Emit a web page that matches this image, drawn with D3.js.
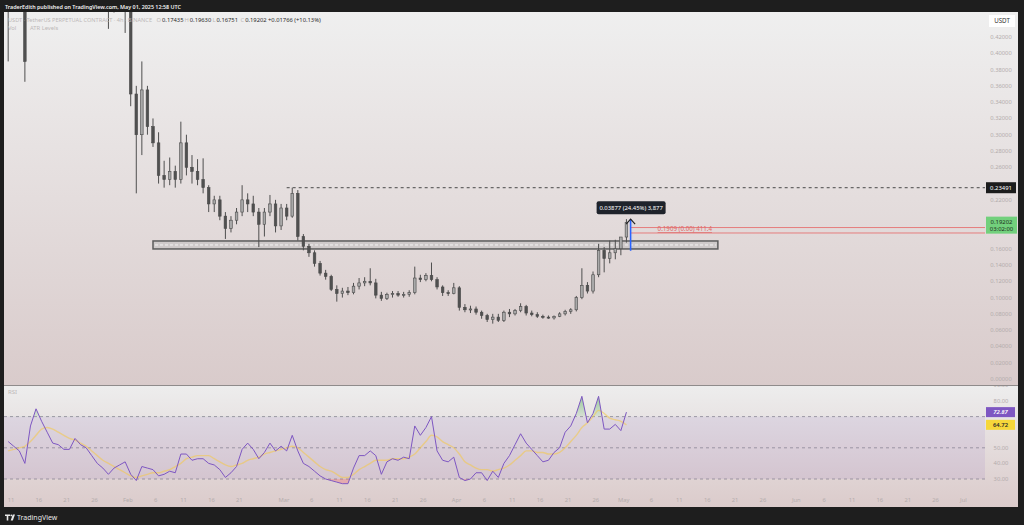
<!DOCTYPE html>
<html><head><meta charset="utf-8">
<script src="https://cdn.jsdelivr.net/npm/d3@7"></script>
<style>html,body{margin:0;padding:0;background:#1e1e1e;overflow:hidden}svg{display:block}</style>
</head><body><svg id="c" width="1024" height="525"></svg>
<script>
// ---------------- DATA ----------------
const startDay = "2025-01-10"; // first daily candle
const open = [.48,.47,.53,.52,.47,.54,.62,.60,.57,.54,.55,.53,.54,.57,.55,.54,.51,.49,.47,.46,.48,.49,
 .46,.35,.30,.355,.31,.29,.25,.245,.255,.245,.29,.26,.255,.245,.235,.215,.22,.20,.185,.195,.205,.22,.215,.205,.19,.205,.215,.188,
 .21,.20,.228,.175,.163,.155,.142,.13,.126,.11,.105,.108,.106,.114,.118,.12,.118,.103,.099,.104,.105,.103,.104,.106,.124,.122,.127,.122,.113,.106,.105,
 .112,.088,.085,.086,.082,.078,.073,.076,.072,.082,.08,.084,.089,.081,.079,.077,.076,.075,.077,.08,.083,.085,.10,.115,.108,.128,.158,.148,.155,.16,
 .17435];
const high = [.53,.55,.60,.54,.56,.64,.68,.63,.59,.57,.58,.56,.60,.59,.57,.55,.53,.50,.49,.50,.50,.51,
 .47,.36,.39,.36,.32,.303,.268,.272,.262,.316,.30,.275,.27,.271,.238,.225,.225,.205,.20,.21,.238,.228,.225,.21,.21,.226,.22,.215,
 .215,.2349,.232,.178,.166,.158,.145,.134,.128,.115,.112,.113,.118,.124,.125,.136,.123,.107,.106,.108,.108,.107,.109,.138,.128,.13,.143,.125,.115,.109,.118,
 .114,.092,.09,.089,.084,.08,.08,.08,.084,.086,.086,.093,.091,.084,.082,.079,.078,.078,.082,.085,.087,.102,.136,.119,.132,.166,.162,.17,.171,.172,
 .1963];
const low = [.39,.46,.50,.365,.46,.53,.58,.55,.52,.50,.51,.50,.53,.53,.52,.50,.48,.46,.43,.45,.46,.425,
 .335,.228,.275,.30,.285,.24,.235,.238,.235,.24,.25,.24,.238,.228,.205,.205,.195,.172,.18,.19,.20,.205,.20,.162,.175,.20,.18,.183,
 .195,.198,.17,.158,.15,.138,.127,.122,.108,.095,.10,.103,.104,.11,.114,.115,.099,.096,.097,.10,.101,.10,.101,.104,.119,.12,.12,.11,.102,.102,.104,
 .084,.082,.081,.079,.074,.07,.068,.07,.07,.076,.078,.082,.078,.077,.075,.074,.074,.073,.076,.078,.08,.083,.098,.105,.105,.125,.131,.142,.147,.152,
 .16751];
const close = [.47,.53,.52,.39,.54,.62,.60,.57,.54,.55,.53,.54,.57,.55,.54,.51,.49,.47,.46,.48,.49,.46,
 .35,.30,.355,.31,.29,.25,.245,.255,.245,.29,.26,.255,.245,.235,.215,.22,.20,.185,.195,.205,.22,.215,.205,.19,.205,.215,.188,.21,
 .20,.228,.175,.163,.155,.142,.13,.126,.11,.105,.108,.106,.114,.118,.12,.118,.103,.099,.104,.105,.103,.104,.106,.124,.122,.127,.122,.113,.106,.105,.112,
 .088,.085,.086,.082,.078,.073,.076,.072,.082,.08,.084,.089,.081,.079,.077,.076,.075,.077,.08,.083,.085,.10,.115,.108,.128,.158,.148,.155,.16,.17435,
 .19202];
const rsi = [54,51,48,40,64,75,67,60,53,52,49,49,56,52,50,45,40,37,33,37,39,41,
 33,29,38,37,36,32,33,35,34,46,46,42,43,43,40,39,36,31,34,38,49,53,49,43,47,53,48,51,
 48,58,48,40,38,35,32,30,29,28,27,27,37,45,45,48,45,33,41,43,42,44,43,64,58,63,70,48,42,41,44,
 31,29,30,34,34,29,35,31,40,45,52,59,53,49,45,41,42,47,50,60,64,72,83,66,72,83,62,62,65,61,
 72.87];
const rsiMA = [48,49,50,51,54,58,62,63,62,60,58,56,55,53,51,48,45,42,40,38,36,34,
 32,31,32,33,34,34,35,36,38,40,43,44,45,45,45,43,41,39,38,39,40,42,43,44,46,47,48,49,
 50,51,50,47,44,41,38,36,35,33,31,31,33,36,38,40,42,42,42,43,43,43,44,46,50,54,58,57,54,52,50,
 46,41,39,37,36,36,35,36,37,39,42,45,48,48,47,47,46,46,47,50,54,58,63,66,70,74,72,69,68,67,
 64.72];
const priceTicks = [0,0.02,0.04,0.06,0.08,0.10,0.12,0.14,0.16,0.18,0.20,0.22,0.24,0.26,0.28,0.30,0.32,0.34,0.36,0.38,0.40,0.42];
const rsiTicks = [30,40,50,60,70,80,90];
const rsiLevels = [70,50,30];
const timeTicks = ["2025-01-11","2025-01-16","2025-01-21","2025-01-26","2025-02-01","2025-02-06","2025-02-11","2025-02-16","2025-02-21",
 "2025-03-01","2025-03-06","2025-03-11","2025-03-16","2025-03-21","2025-03-26","2025-04-01","2025-04-06","2025-04-11","2025-04-16","2025-04-21","2025-04-26",
 "2025-05-01","2025-05-06","2025-05-11","2025-05-16","2025-05-21","2025-05-26","2025-06-01","2025-06-06","2025-06-11","2025-06-16","2025-06-21","2025-06-26","2025-07-01"];
const zone = {from:"2025-02-05T12:00Z", to:"2025-05-17T22:00Z", top:0.1695, bottom:0.1597};
const resistance = {from:"2025-03-01T12:00Z", price:0.23491};
const atrLines = [0.186, 0.1793];
const measure = {at:"2025-05-02T06:00Z", from:0.15753, to:0.1963, label:"0.03877 (24.45%) 3,877"};
const lastPrice = 0.19202, countdown = "03:02:00";
const legendValues = [["O","0.17435"],["H","0.19630"],["L","0.16751"],["C","0.19202"]];
const legendChange = "+0.01766 (+10.13%)";

// ---------------- LAYOUT ----------------
const svg = d3.select("#c");
const L=4, R=985, AR=1018, mainTop=12, mainBot=385, rsiTop=386, rsiBot=507;
const font = "'Noto Sans', 'Liberation Sans', Arial, sans-serif";
const x = d3.scaleUtc().domain([new Date("2025-01-09T18:00Z"), new Date("2025-07-04T21:00Z")]).range([L,R]);
const y = d3.scaleLinear().domain([0,0.42]).range([379,37]);
const yr = d3.scaleLinear().domain([30,80]).range([479,401]);

const defs = svg.append("defs");
function grad(id, y1, y2, c1, c2){
  const g = defs.append("linearGradient").attr("id",id).attr("gradientUnits","userSpaceOnUse")
    .attr("x1",0).attr("x2",0).attr("y1",y1).attr("y2",y2);
  g.append("stop").attr("offset",0).attr("stop-color",c1);
  g.append("stop").attr("offset",1).attr("stop-color",c2);
}
grad("gMain", mainTop, mainBot, "#efefef", "#d9cbcb");
grad("gRsi", rsiTop, rsiBot, "#ededed", "#dbcbcb");
grad("gOB", 395, 417, "rgba(76,175,80,0.55)", "rgba(76,175,80,0.1)");
defs.append("clipPath").attr("id","clipMain").append("rect").attr("x",L).attr("y",mainTop).attr("width",R-L).attr("height",mainBot-mainTop);
defs.append("clipPath").attr("id","clipRsi").append("rect").attr("x",L).attr("y",rsiTop).attr("width",R-L).attr("height",rsiBot-rsiTop);
defs.append("clipPath").attr("id","clipOB").append("rect").attr("x",L).attr("y",rsiTop).attr("width",R-L).attr("height",yr(70)-rsiTop);
defs.append("clipPath").attr("id","clipOS").append("rect").attr("x",L).attr("y",yr(30)).attr("width",R-L).attr("height",rsiBot-yr(30));
defs.append("clipPath").attr("id","clipMainAxis").append("rect").attr("x",R).attr("y",mainTop).attr("width",AR-R).attr("height",mainBot-mainTop);
defs.append("clipPath").attr("id","clipRsiAxis").append("rect").attr("x",R).attr("y",rsiTop).attr("width",AR-R).attr("height",rsiBot-rsiTop);

// backgrounds
svg.append("rect").attr("x",L).attr("y",mainTop).attr("width",AR-L).attr("height",mainBot-mainTop).attr("fill","url(#gMain)");
svg.append("rect").attr("x",L).attr("y",rsiTop).attr("width",AR-L).attr("height",rsiBot-rsiTop).attr("fill","url(#gRsi)");
svg.append("line").attr("x1",L).attr("x2",AR).attr("y1",mainBot+0.5).attr("y2",mainBot+0.5).attr("stroke","#8f8b8b").attr("stroke-width",1.2);

// title bar
svg.append("text").attr("x",5).attr("y",8.5).attr("fill","#f2f2f2").attr("font-family",font).attr("font-size",6.1).attr("font-weight",600)
  .attr("textLength",176).attr("lengthAdjust","spacingAndGlyphs")
  .text("TraderEdith published on TradingView.com, May 01, 2025 12:58 UTC");

// bottom bar logo
const logo = svg.append("g").attr("fill","#e8e8e8");
logo.append("path").attr("d","M5 514.5h5v1.6h-1.7v4.4h-1.6v-4.4H5z");
logo.append("circle").attr("cx",11.3).attr("cy",515.4).attr("r",0.9);
logo.append("path").attr("d","M12.8 514.5h2.2l-2.2 6h-2.1z");
svg.append("text").attr("x",17).attr("y",520).attr("fill","#e8e8e8").attr("font-family",font).attr("font-size",7).text("TradingView");

// ---------------- MAIN PANE ----------------
const main = svg.append("g").attr("clip-path","url(#clipMain)");
const days = open.map((o,i)=>({
  t: d3.utcHour.offset(d3.utcDay.offset(new Date(startDay+"T00:00Z"), i), 12),
  o, h:high[i], l:low[i], c:close[i]}));

// zone box
const zx0 = x(new Date(zone.from)), zx1 = x(new Date(zone.to));
main.append("rect").attr("x",zx0).attr("y",y(zone.top)).attr("width",zx1-zx0).attr("height",y(zone.bottom)-y(zone.top))
  .attr("fill","rgba(185,185,185,0.45)").attr("stroke","#5c5c5c").attr("stroke-width",1.5);
main.append("line").attr("x1",zx0+2).attr("x2",zx1-2).attr("y1",y((zone.top+zone.bottom)/2)).attr("y2",y((zone.top+zone.bottom)/2))
  .attr("stroke","#f7f7f7").attr("stroke-width",0.9).attr("stroke-dasharray","3,2");

// resistance dashed
main.append("line").attr("x1",x(new Date(resistance.from))).attr("x2",R).attr("y1",y(resistance.price)).attr("y2",y(resistance.price))
  .attr("stroke","#4a4a4a").attr("stroke-width",1).attr("stroke-dasharray","3,3");

// atr red lines
const mX = x(new Date(measure.at));
atrLines.forEach(p=>{
  main.append("line").attr("x1",mX).attr("x2",R).attr("y1",y(p)).attr("y2",y(p)).attr("stroke","#e57373").attr("stroke-width",0.9);
});
main.append("text").attr("x",mX+27).attr("y",y(atrLines[0])+3.5).attr("fill","#e06666").attr("font-family",font).attr("font-size",6.2)
  .attr("text-decoration","underline").text("0.1909 (0.00) 411.4");

// candles
const bw = 2.6;
const cg = main.append("g");
cg.selectAll("line.w").data(days).join("line").attr("class","w")
  .attr("x1",d=>x(d.t)).attr("x2",d=>x(d.t)).attr("y1",d=>y(d.h)).attr("y2",d=>y(d.l))
  .attr("stroke","#4f4f4f").attr("stroke-width",1);
cg.selectAll("rect.b").data(days).join("rect").attr("class","b")
  .attr("x",d=>x(d.t)-bw/2).attr("width",bw)
  .attr("y",d=>y(Math.max(d.o,d.c))).attr("height",d=>Math.max(1,Math.abs(y(d.o)-y(d.c))))
  .attr("fill",d=>d.c>=d.o?"#a9a9a9":"#505050").attr("stroke","#4a4a4a").attr("stroke-width",0.6);

// measure tool
const my0 = y(measure.from), my1 = y(measure.to);
main.append("rect").attr("x",mX-1.5).attr("y",my1).attr("width",3).attr("height",my0-my1).attr("fill","rgba(41,98,255,0.18)");
main.append("line").attr("x1",mX).attr("x2",mX).attr("y1",my0).attr("y2",my1).attr("stroke","#2962ff").attr("stroke-width",1.3);
main.append("polyline").attr("points",`${mX-4.5},${my1+5} ${mX},${my1} ${mX+4.5},${my1+5}`)
  .attr("fill","none").attr("stroke","#222").attr("stroke-width",1.2);
main.append("rect").attr("x",mX-34).attr("y",my1-18).attr("width",69).attr("height",13).attr("rx",2).attr("fill","#1f232b");
main.append("text").attr("x",mX+0.5).attr("y",my1-9.3).attr("text-anchor","middle").attr("fill","#ffffff")
  .attr("font-family",font).attr("font-size",5.9).text(measure.label);

// header legend
const faint = "#bdb8b8";
svg.append("text").attr("x",8).attr("y",22).attr("font-family",font).attr("font-size",5.8).attr("fill",faint)
  .attr("textLength",144).attr("lengthAdjust","spacingAndGlyphs")
  .text("USDT · TetherUS PERPETUAL CONTRACT · 4h · BINANCE");
legendValues.forEach(([k,v],i)=>{
  const t = svg.append("text").attr("x",156.5+i*28).attr("y",22).attr("font-family",font).attr("font-size",5.8);
  t.append("tspan").attr("fill",faint).text(k);
  t.append("tspan").attr("dx",1).attr("fill","#2a2a2a").text(v);
});
svg.append("text").attr("x",268).attr("y",22).attr("font-family",font).attr("font-size",5.8).attr("fill","#2a2a2a").text(legendChange);
svg.append("text").attr("x",8).attr("y",30).attr("font-family",font).attr("font-size",5.8).attr("fill",faint).text("Vol");
svg.append("text").attr("x",30).attr("y",30).attr("font-family",font).attr("font-size",5.8).attr("fill",faint).text("ATR Levels");

// price axis (labels hidden behind the price boxes are skipped)
const boxPrices = [resistance.price, lastPrice];
const pax = svg.append("g").attr("clip-path","url(#clipMainAxis)");
pax.selectAll("text").data(priceTicks.filter(p=>!(Math.abs(y(p)-y(resistance.price))<8 || (y(p)>y(lastPrice)-10 && y(p)<y(lastPrice)+14))))
  .join("text").attr("x",1001).attr("y",d=>y(d)+2).attr("text-anchor","middle")
  .attr("font-family",font).attr("font-size",5.8).attr("fill","#b3acac").text(d=>d.toFixed(5));
pax.append("rect").attr("x",989).attr("y",15).attr("width",26).attr("height",12).attr("fill","#ffffff");
pax.append("text").attr("x",1002).attr("y",23.2).attr("text-anchor","middle").attr("font-family",font).attr("font-size",6.2).attr("fill","#333").text("USDT");
pax.append("rect").attr("x",986).attr("y",y(resistance.price)-5.5).attr("width",30).attr("height",11).attr("fill","#1c1c1c");
pax.append("text").attr("x",1001).attr("y",y(resistance.price)+2.2).attr("text-anchor","middle").attr("font-family",font).attr("font-size",5.9)
  .attr("fill","#fff").text(resistance.price.toFixed(5));
pax.append("rect").attr("x",986).attr("y",y(lastPrice)-6).attr("width",31).attr("height",17).attr("fill","#72d07c");
pax.append("text").attr("x",1001.5).attr("y",y(lastPrice)+1.5).attr("text-anchor","middle").attr("font-family",font).attr("font-size",5.9)
  .attr("fill","#1d2e1d").text(lastPrice.toFixed(5));
pax.append("text").attr("x",1001.5).attr("y",y(lastPrice)+8.5).attr("text-anchor","middle").attr("font-family",font).attr("font-size",5.9)
  .attr("fill","#1d2e1d").text(countdown);

// ---------------- RSI PANE ----------------
const rp = svg.append("g").attr("clip-path","url(#clipRsi)");
rp.append("rect").attr("x",L).attr("y",yr(70)).attr("width",R-L).attr("height",yr(30)-yr(70)).attr("fill","rgba(126,87,194,0.11)");
rsiLevels.forEach(v=>{
  rp.append("line").attr("x1",L).attr("x2",R).attr("y1",yr(v)).attr("y2",yr(v)).attr("stroke","#8a8595").attr("stroke-width",0.8).attr("stroke-dasharray","3,3");
});
const rpts = days.map((d,i)=>({t:d.t, v:rsi[i], m:rsiMA[i]}));
const obArea = d3.area().x(d=>x(d.t)).y0(yr(70)).y1(d=>yr(d.v));
rp.append("path").datum(rpts).attr("d",obArea).attr("fill","url(#gOB)").attr("clip-path","url(#clipOB)");
const osArea = d3.area().x(d=>x(d.t)).y0(yr(30)).y1(d=>yr(d.v));
rp.append("path").datum(rpts).attr("d",osArea).attr("fill","rgba(242,54,69,0.25)").attr("clip-path","url(#clipOS)");
rp.append("path").datum(rpts).attr("d",d3.line().x(d=>x(d.t)).y(d=>yr(d.m)).curve(d3.curveMonotoneX))
  .attr("fill","none").attr("stroke","rgba(245,200,70,0.55)").attr("stroke-width",1.4);
rp.append("path").datum(rpts).attr("d",d3.line().x(d=>x(d.t)).y(d=>yr(d.v)))
  .attr("fill","none").attr("stroke","#7e57c2").attr("stroke-width",1);
svg.append("text").attr("x",8).attr("y",394).attr("font-family",font).attr("font-size",6).attr("fill",faint).text("RSI");

// rsi axis
const rLast = rsi[rsi.length-1], mLast = rsiMA[rsiMA.length-1];
const rax = svg.append("g").attr("clip-path","url(#clipRsiAxis)");
rax.selectAll("text").data(rsiTicks.filter(v=>Math.abs(yr(v)-yr(rLast))>7 && Math.abs(yr(v)-yr(mLast))>8.5))
  .join("text").attr("x",1001).attr("y",d=>yr(d)+2).attr("text-anchor","middle")
  .attr("font-family",font).attr("font-size",5.8).attr("fill","#b3acac").text(d=>d.toFixed(2));
rax.append("rect").attr("x",986).attr("y",yr(rLast)-5).attr("width",29).attr("height",10).attr("fill","#7e57c2");
rax.append("text").attr("x",1000.5).attr("y",yr(rLast)+2.2).attr("text-anchor","middle").attr("font-family",font).attr("font-size",5.9)
  .attr("font-style","italic").attr("font-weight",600).attr("fill","#fff").text(rLast.toFixed(2));
rax.append("rect").attr("x",986).attr("y",yr(mLast)-5).attr("width",29).attr("height",10).attr("fill","#f6d73a");
rax.append("text").attr("x",1000.5).attr("y",yr(mLast)+2.2).attr("text-anchor","middle").attr("font-family",font).attr("font-size",5.9)
  .attr("font-weight",600).attr("fill","#2a2a2a").text(mLast.toFixed(2));

// time axis
const fmt = d => d.getUTCDate()===1 ? d3.utcFormat("%b")(d) : String(d.getUTCDate());
svg.append("g").selectAll("text").data(timeTicks.map(s=>new Date(s+"T00:00Z"))).join("text")
  .attr("x",d=>x(d)).attr("y",502).attr("text-anchor","middle").attr("font-family",font).attr("font-size",5.8)
  .attr("fill","#b3acac").text(fmt);
</script></body></html>
